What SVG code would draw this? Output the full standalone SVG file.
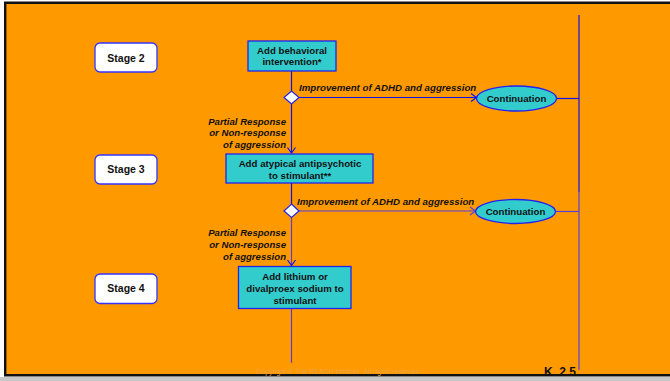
<svg xmlns="http://www.w3.org/2000/svg" width="670" height="381" viewBox="0 0 670 381">
  <style>
    .lbl { font-family: "Liberation Sans", Arial, sans-serif; font-weight: bold; fill: #111; }
    .it { font-style: italic; }
    .stage { fill: #FFFFFF; stroke: #3333FF; stroke-width: 1.3; }
    .act { fill: #33CCCC; stroke: #2222EE; stroke-width: 1.3; }
    .dia { fill: #FFFFFF; stroke: #2222EE; stroke-width: 1.2; }
    .ln { fill: none; stroke: #1111EE; stroke-width: 1.2; }
    .ln2 { fill: none; stroke: #5B40D6; stroke-width: 1.2; }
  </style>

  <!-- frame -->
  <rect x="0" y="0" width="670" height="381" fill="#FFFFFF"/>
  <rect x="0" y="377" width="670" height="4" fill="#C8C8C8"/>
  <rect x="4" y="2" width="666" height="374" fill="#FF9900"/>
  <path d="M670 2.8 H5.2 V375.2 H670" fill="none" stroke="#111" stroke-width="2.4"/>

  <!-- connectors -->
  <g id="connectors">
    <path class="ln" d="M579 15 V192"/>
    <path class="ln2" d="M579 190 V370"/>
    <path class="ln" d="M291.5 71 V91"/>
    <path class="ln" d="M299 97.5 H476"/>
    <path class="ln" d="M471 93.5 L476.5 97.5 L471 101.5"/>
    <path class="ln" d="M556.5 98.5 H579"/>
    <path class="ln" d="M291.5 104 V153"/>
    <path class="ln" d="M287.5 147.5 L291.5 153 L295.5 147.5"/>
    <path class="ln" d="M291.5 183 V204"/>
    <path class="ln2" d="M299 211 H475"/>
    <path class="ln2" d="M470 207 L475.5 211 L470 215"/>
    <path class="ln2" d="M555.5 211.5 H579"/>
    <path class="ln2" d="M291.5 217.5 V265.5"/>
    <path class="ln" d="M287.5 260 L291.5 265.5 L295.5 260"/>
    <path class="ln2" d="M291.5 309 V363"/>
  </g>

  <!-- edge labels -->
  <g id="edge-labels" class="lbl it" font-size="9.7">
    <text x="299" y="91">Improvement of ADHD and aggression</text>
    <text x="297" y="204.5">Improvement of ADHD and aggression</text>
    <g text-anchor="end" font-size="9.6">
      <text x="286" y="124.5">Partial Response</text>
      <text x="286" y="136">or Non-response</text>
      <text x="286" y="147.5">of aggression</text>
      <text x="286" y="236">Partial Response</text>
      <text x="286" y="248">or Non-response</text>
      <text x="286" y="259.5">of aggression</text>
    </g>
  </g>

  <!-- stages -->
  <g id="stage2">
    <rect class="stage" x="95" y="43" width="62" height="29" rx="5"/>
    <text class="lbl" x="126" y="61.5" font-size="10.5" text-anchor="middle">Stage 2</text>
  </g>
  <g id="stage3">
    <rect class="stage" x="95" y="155" width="62" height="29" rx="5"/>
    <text class="lbl" x="126" y="173" font-size="10.5" text-anchor="middle">Stage 3</text>
  </g>
  <g id="stage4">
    <rect class="stage" x="95" y="274" width="62" height="29.5" rx="5"/>
    <text class="lbl" x="126" y="292" font-size="10.5" text-anchor="middle">Stage 4</text>
  </g>

  <!-- treatment steps -->
  <g id="behavioral">
    <rect class="act" x="248" y="41" width="88" height="30"/>
    <text class="lbl" x="292" y="53.5" font-size="9.7" text-anchor="middle">Add behavioral</text>
    <text class="lbl" x="292" y="65" font-size="9.7" text-anchor="middle">intervention*</text>
  </g>
  <g id="antipsychotic">
    <rect class="act" x="226" y="154" width="147" height="29"/>
    <text class="lbl" x="300" y="167" font-size="9.7" text-anchor="middle">Add atypical antipsychotic</text>
    <text class="lbl" x="300" y="179" font-size="9.7" text-anchor="middle">to stimulant**</text>
  </g>
  <g id="lithium">
    <rect class="act" x="238.5" y="266.5" width="112.5" height="42"/>
    <text class="lbl" x="295" y="280" font-size="9.7" text-anchor="middle">Add lithium or</text>
    <text class="lbl" x="295" y="292" font-size="9.7" text-anchor="middle">divalproex sodium to</text>
    <text class="lbl" x="295" y="304" font-size="9.7" text-anchor="middle">stimulant</text>
  </g>

  <!-- decision points -->
  <g id="decision1">
    <polygon class="dia" points="291.5,91 299,97.5 291.5,104 284,97.5"/>
  </g>
  <g id="decision2">
    <polygon class="dia" points="291.5,204 299,211 291.5,217.5 284,211"/>
  </g>

  <!-- outcomes -->
  <g id="continuation1">
    <ellipse class="act" cx="516.5" cy="98.5" rx="40" ry="12.5"/>
    <text class="lbl" x="516.5" y="102" font-size="9.7" text-anchor="middle">Continuation</text>
  </g>
  <g id="continuation2">
    <ellipse class="act" cx="515.5" cy="211.5" rx="40" ry="12"/>
    <text class="lbl" x="515.5" y="215" font-size="9.7" text-anchor="middle">Continuation</text>
  </g>

  <!-- footer -->
  <text x="339" y="374" font-family="Liberation Sans, Arial, sans-serif" font-size="7" fill="#E8A448" text-anchor="middle">Copyright © The REACH Institute.  All rights reserved.</text>
  <text x="544" y="376" font-family="Liberation Sans, Arial, sans-serif" font-weight="bold" font-size="12" fill="#111" xml:space="preserve">K  2.5</text>
</svg>
